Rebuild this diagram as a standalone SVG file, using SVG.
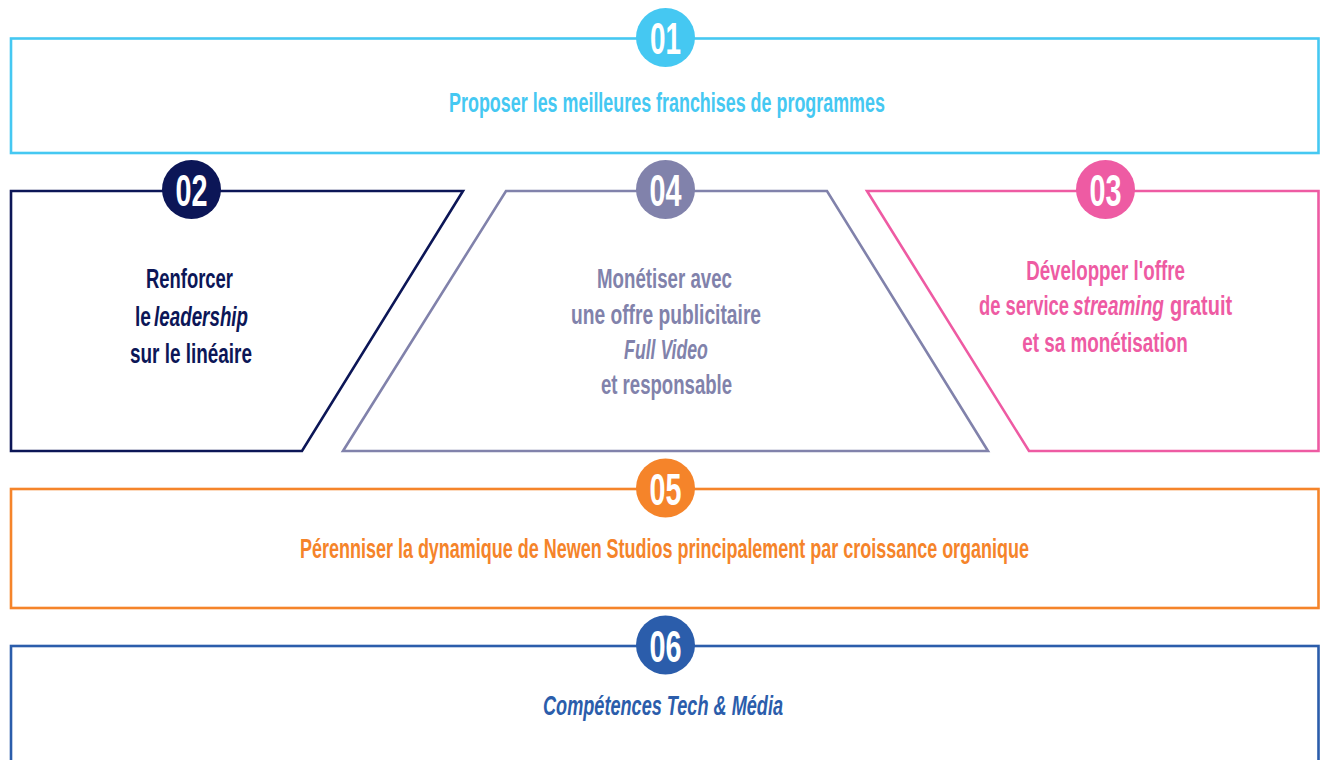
<svg xmlns="http://www.w3.org/2000/svg" width="1320" height="760" viewBox="0 0 1320 760">
<style>
  .box{fill:none;stroke-width:2.6;stroke-linejoin:miter}
  .lbl{font-family:"Liberation Sans",Arial,sans-serif;font-weight:bold;font-size:28px;text-anchor:middle}
  .st{text-anchor:start}
  .num{font-family:"Liberation Sans",Arial,sans-serif;font-weight:bold;font-size:44px;fill:#fff;text-anchor:middle}
  .it{font-style:italic}
</style>
<rect width="1320" height="760" fill="#fff"/>

<g id="node01">
  <rect class="box" x="11" y="38.5" width="1307.5" height="114.5" stroke="#45c8f2" stroke-width="3"/>
  <circle cx="665.5" cy="37.5" r="29.5" fill="#45c8f2"/>
  <text class="num" transform="translate(665.5,54) scale(0.64,1)" textLength="48.4" lengthAdjust="spacingAndGlyphs">01</text>
  <text class="lbl" transform="translate(667,112) scale(0.64,1)" fill="#45c8f2" textLength="681" lengthAdjust="spacingAndGlyphs">Proposer les meilleures franchises de programmes</text>
</g>

<g id="node02">
  <polygon class="box" points="11,191 463,191 302,451 11,451" stroke="#0c1657"/>
  <circle cx="191.5" cy="189.5" r="29.5" fill="#0c1657"/>
  <text class="num" transform="translate(191.5,206) scale(0.64,1)" textLength="50" lengthAdjust="spacingAndGlyphs">02</text>
  <text class="lbl" transform="translate(189.5,288) scale(0.64,1)" fill="#0c1657" textLength="136" lengthAdjust="spacingAndGlyphs">Renforcer</text>
  <text class="lbl st" transform="translate(135,326) scale(0.64,1)" fill="#0c1657" textLength="25" lengthAdjust="spacingAndGlyphs">le</text>
  <text class="lbl st it" transform="translate(154,326) scale(0.64,1)" fill="#0c1657" textLength="147" lengthAdjust="spacingAndGlyphs">leadership</text>
  <text class="lbl" transform="translate(191,363) scale(0.64,1)" fill="#0c1657" textLength="190.6" lengthAdjust="spacingAndGlyphs">sur le linéaire</text>
</g>

<g id="node04">
  <polygon class="box" points="506,191 827,191 988,451 343,451" stroke="#8182ab"/>
  <circle cx="665.5" cy="189.5" r="29.5" fill="#8182ab"/>
  <text class="num" transform="translate(665.5,206) scale(0.64,1)" textLength="50" lengthAdjust="spacingAndGlyphs">04</text>
  <text class="lbl" transform="translate(664.5,288) scale(0.64,1)" fill="#8182ab" textLength="211" lengthAdjust="spacingAndGlyphs">Monétiser avec</text>
  <text class="lbl" transform="translate(666,324) scale(0.64,1)" fill="#8182ab" textLength="297" lengthAdjust="spacingAndGlyphs">une offre publicitaire</text>
  <text class="lbl it" transform="translate(666,359) scale(0.64,1)" fill="#8182ab" textLength="131" lengthAdjust="spacingAndGlyphs">Full Video</text>
  <text class="lbl" transform="translate(666.5,394) scale(0.64,1)" fill="#8182ab" textLength="205" lengthAdjust="spacingAndGlyphs">et responsable</text>
</g>

<g id="node03">
  <polygon class="box" points="867,191 1318.5,191 1318.5,451 1029,451" stroke="#ee5ba3"/>
  <circle cx="1105.5" cy="189.5" r="29.5" fill="#ee5ba3"/>
  <text class="num" transform="translate(1105.5,206) scale(0.64,1)" textLength="50" lengthAdjust="spacingAndGlyphs">03</text>
  <text class="lbl" transform="translate(1105.5,280) scale(0.64,1)" fill="#ee5ba3" textLength="248" lengthAdjust="spacingAndGlyphs">Développer l'offre</text>
  <text class="lbl st" transform="translate(979,315) scale(0.64,1)" fill="#ee5ba3" textLength="140.6" lengthAdjust="spacingAndGlyphs">de service</text>
  <text class="lbl st it" transform="translate(1073,315) scale(0.64,1)" fill="#ee5ba3" textLength="142" lengthAdjust="spacingAndGlyphs">streaming</text>
  <text class="lbl st" transform="translate(1170,315) scale(0.64,1)" fill="#ee5ba3" textLength="97" lengthAdjust="spacingAndGlyphs">gratuit</text>
  <text class="lbl" transform="translate(1105,352) scale(0.64,1)" fill="#ee5ba3" textLength="259" lengthAdjust="spacingAndGlyphs">et sa monétisation</text>
</g>

<g id="node05">
  <rect class="box" x="11" y="489" width="1307.5" height="119" stroke="#f5842a"/>
  <circle cx="665.5" cy="488" r="29.5" fill="#f5842a"/>
  <text class="num" transform="translate(665.5,504.5) scale(0.64,1)" textLength="50" lengthAdjust="spacingAndGlyphs">05</text>
  <text class="lbl" transform="translate(664.5,558) scale(0.64,1)" fill="#f5842a" textLength="1139" lengthAdjust="spacingAndGlyphs">Pérenniser la dynamique de Newen Studios principalement par croissance organique</text>
</g>

<g id="node06">
  <rect class="box" x="11" y="646" width="1307.5" height="130" stroke="#2b5dab"/>
  <circle cx="665.5" cy="645" r="29.5" fill="#2b5dab"/>
  <text class="num" transform="translate(665.5,661.5) scale(0.64,1)" textLength="50" lengthAdjust="spacingAndGlyphs">06</text>
  <text class="lbl it" transform="translate(663,715) scale(0.64,1)" fill="#2b5dab" textLength="375" lengthAdjust="spacingAndGlyphs">Compétences Tech &amp; Média</text>
</g>
</svg>
